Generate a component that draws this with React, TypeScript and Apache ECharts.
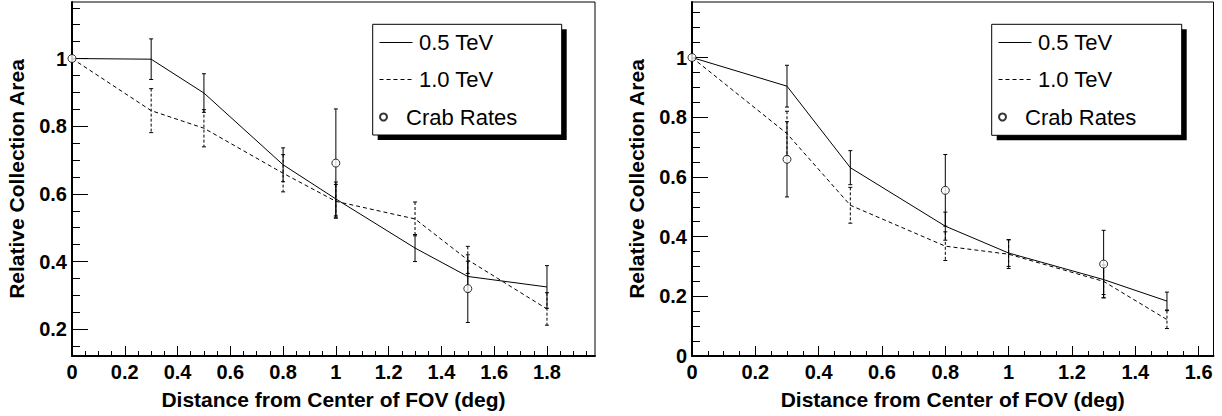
import React, { useEffect, useRef } from "react";
import * as echarts from "echarts";

// ---------------- data ----------------
const leftDist = [0, 0.3, 0.5, 0.8, 1.0, 1.3, 1.5, 1.8];
const left05 = [1.0, 0.998, 0.898, 0.686, 0.585, 0.44, 0.356, 0.325];
const left05Err = [0, 0.06, 0.057, 0.05, 0.05, 0.04, 0.045, 0.063];
const left10 = [1.0, 0.846, 0.794, 0.661, 0.578, 0.526, 0.405, 0.26];
const left10Err = [0, 0.065, 0.055, 0.055, 0.05, 0.05, 0.04, 0.048];
const leftCrabDist = [0, 1.0, 1.5];
const leftCrab = [1.0, 0.691, 0.32];
const leftCrabErr = [0, 0.16, 0.1];

const rightDist = [0, 0.3, 0.5, 0.8, 1.0, 1.3, 1.5];
const right05 = [1.0, 0.904, 0.631, 0.435, 0.345, 0.256, 0.184];
const right05Err = [0, 0.07, 0.057, 0.047, 0.045, 0.05, 0.03];
const right10 = [1.0, 0.745, 0.505, 0.368, 0.341, 0.25, 0.122];
const right10Err = [0, 0.075, 0.06, 0.048, 0.048, 0.055, 0.03];
const rightCrabDist = [0, 0.3, 0.8, 1.3];
const rightCrab = [1.0, 0.659, 0.555, 0.308];
const rightCrabErr = [0, 0.126, 0.12, 0.113];

const legendNames = ["0.5 TeV", "1.0 TeV", "Crab Rates"];
const xTitle = "Distance from Center of FOV (deg)";
const yTitle = "Relative Collection Area";

const xLabelsL = [0, 0.2, 0.4, 0.6, 0.8, 1, 1.2, 1.4, 1.6, 1.8];
const yLabelsL = [0.2, 0.4, 0.6, 0.8, 1];
const xLabelsR = [0, 0.2, 0.4, 0.6, 0.8, 1, 1.2, 1.4, 1.6];
const yLabelsR = [0, 0.2, 0.4, 0.6, 0.8, 1];

const FONT = '"Liberation Sans", Arial, Helvetica, sans-serif';

function minorTicks(from: number, to: number, step: number, majors: number[]) {
  const out: number[] = [];
  for (let i = 0; ; i++) {
    const v = Math.round((from + i * step) * 1000) / 1000;
    if (v > to + 1e-9) break;
    if (!majors.some((m) => Math.abs(m - v) < 1e-6)) out.push(v);
  }
  return out;
}

const fmt = (v: number) => String(parseFloat(Number(v).toFixed(2)));

function zip(xs: number[], ys: number[]) {
  return xs.map((x, i) => [x, ys[i]]);
}
function zip3(xs: number[], ys: number[], es: number[]) {
  return xs.map((x, i) => [x, ys[i], es[i]]);
}

function errRender(dashed: boolean) {
  return (params: any, api: any) => {
    const x = api.value(0);
    const y = api.value(1);
    const e = api.value(2);
    if (!e) return null;
    const t = api.coord([x, y + e]);
    const b = api.coord([x, y - e]);
    const cap = 2;
    const style: any = { stroke: "#000", lineWidth: 1, fill: "none" };
    if (dashed) style.lineDash = [3, 2];
    const capStyle = { stroke: "#000", lineWidth: 1 };
    return {
      type: "group",
      children: [
        { type: "line", shape: { x1: t[0], y1: t[1], x2: b[0], y2: b[1] }, style },
        { type: "line", shape: { x1: t[0] - cap, y1: t[1], x2: t[0] + cap, y2: t[1] }, style: capStyle },
        { type: "line", shape: { x1: b[0] - cap, y1: b[1], x2: b[0] + cap, y2: b[1] }, style: capStyle },
      ],
    };
  };
}

function majorX(grid: number, min: number, max: number, labels: number[]) {
  return {
    gridIndex: grid,
    type: "value",
    position: "bottom",
    min,
    max,
    name: xTitle,
    nameLocation: "middle",
    nameGap: 33,
    nameTextStyle: { color: "#000", fontFamily: FONT, fontSize: 21, fontWeight: "bold" },
    axisLine: { show: true, onZero: false, lineStyle: { color: "#000", width: 2 } },
    axisTick: { show: true, inside: true, length: 10, customValues: labels, lineStyle: { color: "#000", width: 1 } },
    axisLabel: { show: true, customValues: labels, formatter: fmt, color: "#000", fontFamily: FONT, fontSize: 20, fontWeight: "bold", margin: 6 },
    splitLine: { show: false },
  };
}
function minorX(grid: number, min: number, max: number, ticks: number[]) {
  return {
    gridIndex: grid,
    type: "value",
    position: "bottom",
    min,
    max,
    axisLine: { show: false },
    axisTick: { show: true, inside: true, length: 5, customValues: ticks, lineStyle: { color: "#000", width: 1 } },
    axisLabel: { show: false },
    splitLine: { show: false },
  };
}
function majorY(grid: number, min: number, max: number, labels: number[]) {
  return {
    gridIndex: grid,
    type: "value",
    position: "left",
    min,
    max,
    name: yTitle,
    nameLocation: "middle",
    nameRotate: 90,
    nameGap: 45,
    nameTextStyle: { color: "#000", fontFamily: FONT, fontSize: 21, fontWeight: "bold" },
    axisLine: { show: true, onZero: false, lineStyle: { color: "#000", width: 2 } },
    axisTick: { show: true, inside: true, length: 16, customValues: labels, lineStyle: { color: "#000", width: 1 } },
    axisLabel: { show: true, customValues: labels, formatter: fmt, color: "#000", fontFamily: FONT, fontSize: 20, fontWeight: "bold", margin: 5 },
    splitLine: { show: false },
  };
}
function minorY(grid: number, min: number, max: number, ticks: number[]) {
  return {
    gridIndex: grid,
    type: "value",
    position: "left",
    min,
    max,
    axisLine: { show: false },
    axisTick: { show: true, inside: true, length: 8, customValues: ticks, lineStyle: { color: "#000", width: 1 } },
    axisLabel: { show: false },
    splitLine: { show: false },
  };
}

function plotSeries(ax: number, dist: number[], v05: number[], e05: number[], v10: number[], e10: number[], cd: number[], cv: number[], ce: number[]) {
  return [
    {
      type: "custom", name: "err05_" + ax, xAxisIndex: ax, yAxisIndex: ax, data: zip3(dist, v05, e05),
      renderItem: errRender(false), encode: { x: 0, y: 1 }, z: 2, silent: true,
    },
    {
      type: "custom", name: "err10_" + ax, xAxisIndex: ax, yAxisIndex: ax, data: zip3(dist, v10, e10),
      renderItem: errRender(true), encode: { x: 0, y: 1 }, z: 2, silent: true,
    },
    {
      type: "custom", name: "errCrab_" + ax, xAxisIndex: ax, yAxisIndex: ax, data: zip3(cd, cv, ce),
      renderItem: errRender(false), encode: { x: 0, y: 1 }, z: 2, silent: true,
    },
    {
      type: "line", name: legendNames[0], xAxisIndex: ax, yAxisIndex: ax, data: zip(dist, v05),
      symbol: "none", color: "#000", lineStyle: { color: "#000", width: 1, type: "solid" }, z: 3, silent: true,
    },
    {
      type: "line", name: legendNames[1], xAxisIndex: ax, yAxisIndex: ax, data: zip(dist, v10),
      symbol: "none", color: "#000", lineStyle: { color: "#000", width: 1, type: [4, 3] }, z: 3, silent: true,
    },
    {
      type: "scatter", name: legendNames[2], xAxisIndex: ax, yAxisIndex: ax, data: zip(cd, cv),
      symbol: "circle", symbolSize: 8, itemStyle: { color: "#fff", borderColor: "#000", borderWidth: 1 }, z: 4, silent: true,
    },
  ];
}

function legendBox(x: number, y: number, w: number, h: number, iconX: number) {
  return [
    { type: "rect", z: 1, shape: { x: x + 5, y: y + 5, width: w, height: h }, style: { fill: "#000" } },
    { type: "rect", z: 1, shape: { x, y, width: w, height: h }, style: { fill: "#fff", stroke: "#000", lineWidth: 1 } },
    { type: "line", z: 10, shape: { x1: iconX, y1: 42.5, x2: iconX + 33, y2: 42.5 }, style: { stroke: "#000", lineWidth: 1 } },
    { type: "line", z: 10, shape: { x1: iconX, y1: 79.5, x2: iconX + 33, y2: 79.5 }, style: { stroke: "#000", lineWidth: 1, lineDash: [4, 3] } },
  ];
}

function legends(left: number) {
  const text = { color: "#000", fontFamily: FONT, fontSize: 22, lineHeight: 22 };
  return [
    {
      orient: "vertical", left, top: 31, padding: 0, itemGap: 15, itemWidth: 35, itemHeight: 14,
      selectedMode: false,
      data: [
        { name: legendNames[0], icon: "none" },
        { name: legendNames[1], icon: "none" },
      ],
      textStyle: text,
    },
    {
      orient: "vertical", left, top: 106, padding: 0, itemWidth: 35, itemHeight: 7,
      selectedMode: false, data: [{ name: legendNames[2], icon: "circle" }], textStyle: text,
    },
  ];
}

export default function App() {
  const ref = useRef<HTMLDivElement>(null);
  useEffect(() => {
    if (!ref.current) return;
    const chart = echarts.init(ref.current, undefined, { renderer: "svg" });
    const xMinL = minorTicks(0, 1.98, 0.05, xLabelsL);
    const yMinL = minorTicks(0.15, 1.16, 0.05, yLabelsL);
    const xMinR = minorTicks(0, 1.64, 0.05, xLabelsR);
    const yMinR = minorTicks(0, 1.18, 0.05, yLabelsR);
    const option: any = {
      animation: false,
      backgroundColor: "#fff",
      grid: [
        { left: 72, top: 2, width: 523, height: 354, show: true, borderColor: "#000", borderWidth: 1, backgroundColor: "transparent" },
        { left: 692, top: 2, width: 521.5, height: 354, show: true, borderColor: "#000", borderWidth: 1, backgroundColor: "transparent" },
      ],
      xAxis: [
        majorX(0, 0, 1.982, xLabelsL),
        minorX(0, 0, 1.982, xMinL),
        majorX(1, 0, 1.647, xLabelsR),
        minorX(1, 0, 1.647, xMinR),
      ],
      yAxis: [
        majorY(0, 0.121, 1.167, yLabelsL),
        minorY(0, 0.121, 1.167, yMinL),
        majorY(1, 0, 1.186, yLabelsR),
        minorY(1, 0, 1.186, yMinR),
      ],
      legend: [...legends(379), ...legends(998)],
      graphic: [...legendBox(372.7, 24.3, 189, 110.7, 379.5), ...legendBox(991.7, 24.3, 190, 111, 998.5)],
      series: [
        ...plotSeries(0, leftDist, left05, left05Err, left10, left10Err, leftCrabDist, leftCrab, leftCrabErr),
        ...plotSeries(2, rightDist, right05, right05Err, right10, right10Err, rightCrabDist, rightCrab, rightCrabErr),
      ],
    };
    chart.setOption(option);
    return () => chart.dispose();
  }, []);
  return (
    <div
      ref={ref}
      style={{ position: "fixed", left: 0, top: 0, width: 1222, height: 416, background: "#fff" }}
    />
  );
}
